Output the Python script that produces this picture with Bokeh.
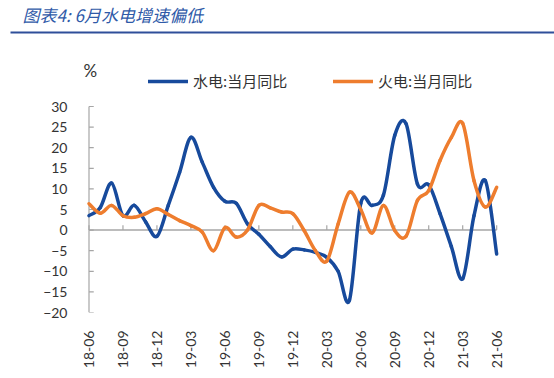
from math import pi
from bokeh.plotting import figure
from bokeh.layouts import column
from bokeh.models import (FixedTicker, Label, Legend, LegendItem,
                          BoxAnnotation, Range1d)
from bokeh.embed import file_html
from bokeh.resources import INLINE

# ---- data -------------------------------------------------------------
months = ["18-06", "18-07", "18-08", "18-09", "18-10", "18-11", "18-12",
          "19-01", "19-02", "19-03", "19-04", "19-05", "19-06", "19-07",
          "19-08", "19-09", "19-10", "19-11", "19-12", "20-01", "20-02",
          "20-03", "20-04", "20-05", "20-06", "20-07", "20-08", "20-09",
          "20-10", "20-11", "20-12", "21-01", "21-02", "21-03", "21-04",
          "21-05", "21-06"]
hydro = [3.5, 5.5, 11.4, 3.5, 6.0, 2.0, -1.5, 6.0, 14.0, 22.5, 16.5, 10.4,
         7.0, 6.5, 1.5, -1.0, -4.0, -6.5, -4.6, -4.8, -5.4, -6.6, -10.0,
         -17.0, 6.5, 6.0, 8.5, 23.0, 25.8, 11.2, 11.0, 4.0, -4.0, -11.8,
         3.5, 12.0, -5.8]
thermal = [6.4, 4.1, 6.0, 3.5, 3.1, 4.0, 5.2, 3.8, 2.3, 1.1, -0.5, -5.0,
           0.6, -1.7, 0.0, 6.0, 5.4, 4.4, 4.0, -0.1, -5.0, -7.5, 1.5, 9.2,
           5.0, -0.7, 6.0, -0.1, -1.5, 7.2, 9.6, 16.9, 22.5, 25.9, 12.0,
           5.6, 10.4]
y_ticks = [-20, -15, -10, -5, 0, 5, 10, 15, 20, 25, 30]
label_step = 3
series_names = ["水电:当月同比", "火电:当月同比"]
unit_text = "%"
title_text = "图表4: 6月水电增速偏低"

BLUE = "#174a9c"
ORANGE = "#ee7d2e"
GRAY = "#a6a6a6"
TXT = "#333333"

xs = list(range(len(months)))
x_ticks = xs[::label_step]

# ---- title strip ------------------------------------------------------
top = figure(width=554, height=40, output_backend="svg", toolbar_location=None,
             x_axis_type=None, y_axis_type=None, x_range=Range1d(0, 1),
             y_range=Range1d(0, 1), min_border=0, title=None)
top.frame_align = False
top.outline_line_color = None
top.grid.visible = False
top.add_layout(Label(x=22, y=26, x_units="screen", y_units="screen",
                     text=title_text, text_font="Noto Sans CJK SC",
                     text_font_style="italic", text_font_size="17px",
                     text_color="#2f5aa8", text_baseline="middle"))
top.add_layout(BoxAnnotation(left=10, right=554, bottom=7, top=9,
                             left_units="screen", right_units="screen",
                             bottom_units="screen", top_units="screen",
                             fill_color="#2f4f9a", fill_alpha=1,
                             line_color=None))

# ---- main chart -------------------------------------------------------
p = figure(frame_width=419, frame_height=252, output_backend="svg",
           toolbar_location=None,
           x_range=Range1d(-0.75, xs[-1] + 0.25), y_range=Range1d(-20, 41.17),
           min_border_left=80, min_border_right=55, min_border_top=20,
           min_border_bottom=66, title=None)
p.frame_align = False
p.outline_line_color = None
p.grid.visible = False

# y axis: labels from the axis, spine and inward ticks along x = first month
ya = p.yaxis[0]
ya.ticker = FixedTicker(ticks=y_ticks)
ya.axis_line_color = None
ya.major_tick_line_color = None
ya.minor_tick_line_color = None
ya.major_label_text_font = "Lato"
ya.major_label_text_font_size = "14px"
ya.major_label_text_color = TXT
ya.major_label_standoff = 7
p.segment(x0=[xs[0]], x1=[xs[0]], y0=[min(y_ticks)], y1=[max(y_ticks)],
          line_color=GRAY, line_width=1.2)
p.segment(x0=[xs[0]] * len(y_ticks), x1=[xs[0] + 0.42] * len(y_ticks),
          y0=y_ticks, y1=y_ticks, line_color=GRAY, line_width=1.2)

# x axis (labels only, at the bottom)
xa = p.xaxis[0]
xa.ticker = FixedTicker(ticks=x_ticks)
xa.major_label_overrides = {i: months[i] for i in x_ticks}
xa.major_label_orientation = pi / 2
xa.axis_line_color = None
xa.major_tick_line_color = None
xa.minor_tick_line_color = None
xa.major_label_text_font = "Lato"
xa.major_label_text_font_size = "14px"
xa.major_label_text_color = TXT
xa.major_label_standoff = 12

# zero line with upward ticks
p.segment(x0=[xs[0]], x1=[xs[-1]], y0=[0], y1=[0], line_color=GRAY,
          line_width=1.5)
p.segment(x0=x_ticks, x1=x_ticks, y0=[0] * len(x_ticks), y1=[1.2] * len(x_ticks),
          line_color=GRAY, line_width=1.2)


def bezier_parts(vals):
    n = len(vals)
    x0, y0, x1, y1, cx0, cy0, cx1, cy1 = [], [], [], [], [], [], [], []
    for i in range(n - 1):
        a = max(i - 1, 0)
        b = min(i + 2, n - 1)
        x0.append(xs[i]); y0.append(vals[i])
        x1.append(xs[i + 1]); y1.append(vals[i + 1])
        cx0.append(xs[i] + (xs[i + 1] - xs[a]) / 6.0)
        cy0.append(vals[i] + (vals[i + 1] - vals[a]) / 6.0)
        cx1.append(xs[i + 1] - (xs[b] - xs[i]) / 6.0)
        cy1.append(vals[i + 1] - (vals[b] - vals[i]) / 6.0)
    return dict(x0=x0, y0=y0, x1=x1, y1=y1, cx0=cx0, cy0=cy0, cx1=cx1, cy1=cy1)


r_h = p.bezier(**bezier_parts(hydro), line_color=BLUE, line_width=3.5,
               line_cap="round")
r_t = p.bezier(**bezier_parts(thermal), line_color=ORANGE, line_width=3.5,
               line_cap="round")

# legends (top of the frame, above the axis range)
for r, name, lx in [(r_h, series_names[0], 68), (r_t, series_names[1], 253)]:
    lg = Legend(items=[LegendItem(label=name, renderers=[r], index=0)],
                location=(lx, 221),
                padding=0, margin=0, border_line_color=None,
                background_fill_alpha=0, glyph_width=40, glyph_height=16,
                label_height=16, label_standoff=5,
                label_text_font="Noto Sans CJK SC", label_text_font_size="15px",
                label_text_color=TXT)
    p.add_layout(lg, "center")

# "%" unit label
p.add_layout(Label(x=3, y=232, x_units="screen", y_units="screen",
                   text=unit_text, text_font="Lato", text_font_size="17px",
                   text_color=TXT, text_baseline="bottom"))

open("out.html", "w").write(file_html(column(top, p, spacing=0), INLINE))
